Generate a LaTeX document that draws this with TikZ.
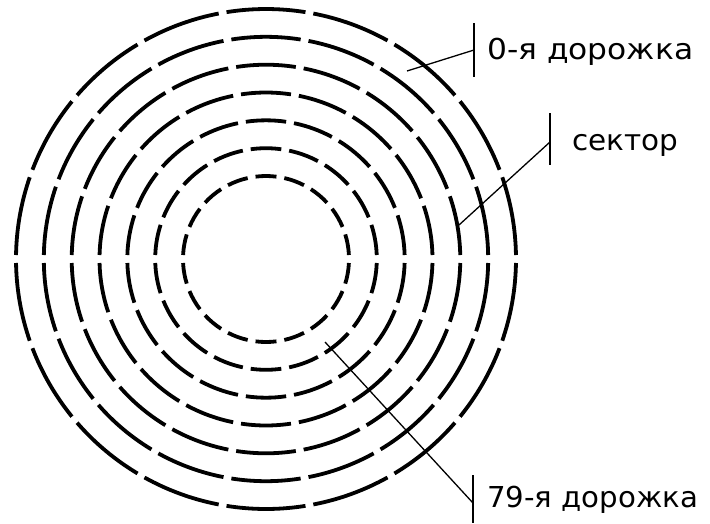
\documentclass[tikz,border=0pt]{standalone}
\usepackage{fontspec}
\setmainfont{DejaVu Sans}
\usepackage{graphicx}
\begin{document}
\begin{tikzpicture}[x=1pt,y=-1pt,
  track/.style={line width=3.8pt},
  leader/.style={line width=1.3pt},
  lbl/.style={anchor=base west, inner sep=0pt, font=\fontsize{28.8}{32}\selectfont}]
\useasboundingbox (0,0) rectangle (710,523);
\coordinate (c) at (266,259);
\foreach \r in {250,222.2,194.3,166.5,138.7,110.8,83}{
  \pgfmathsetmacro{\dd}{4/\r*180/pi}
  \foreach \k in {0,...,17}{
    \pgfmathsetmacro{\sa}{20*\k+\dd}
    \pgfmathsetmacro{\ea}{20*\k+20-\dd}
    \draw[track] ([shift={(c)}]\sa:\r) arc[start angle=\sa, end angle=\ea, radius=\r];
  }
}
% labels
\node[lbl] (t0) at (487,59) {\resizebox{206pt}{\height}{0-я дорожка}};
\node[lbl] (ts) at (572,150) {\resizebox{106pt}{\height}{сектор}};
\node[lbl] (t79) at (487,507) {\resizebox{211pt}{\height}{79-я дорожка}};
% leaders
\coordinate (b0t) at (474,23); \coordinate (b0b) at (474,77);
\coordinate (b0m) at (474,50); \coordinate (e0) at (407,71);
\draw[leader] (b0t) -- (b0b);
\draw[leader] (b0m) -- (e0);
\coordinate (bst) at (550,113); \coordinate (bsb) at (550,165);
\coordinate (bsm) at (550,142); \coordinate (es) at (459,225);
\draw[leader] (bst) -- (bsb);
\draw[leader] (bsm) -- (es);
\coordinate (b79t) at (473,475); \coordinate (b79b) at (473,523);
\coordinate (b79m) at (473,503); \coordinate (e79) at (325,342);
\draw[leader] (b79t) -- (b79b);
\draw[leader] (b79m) -- (e79);
\end{tikzpicture}
\end{document}
